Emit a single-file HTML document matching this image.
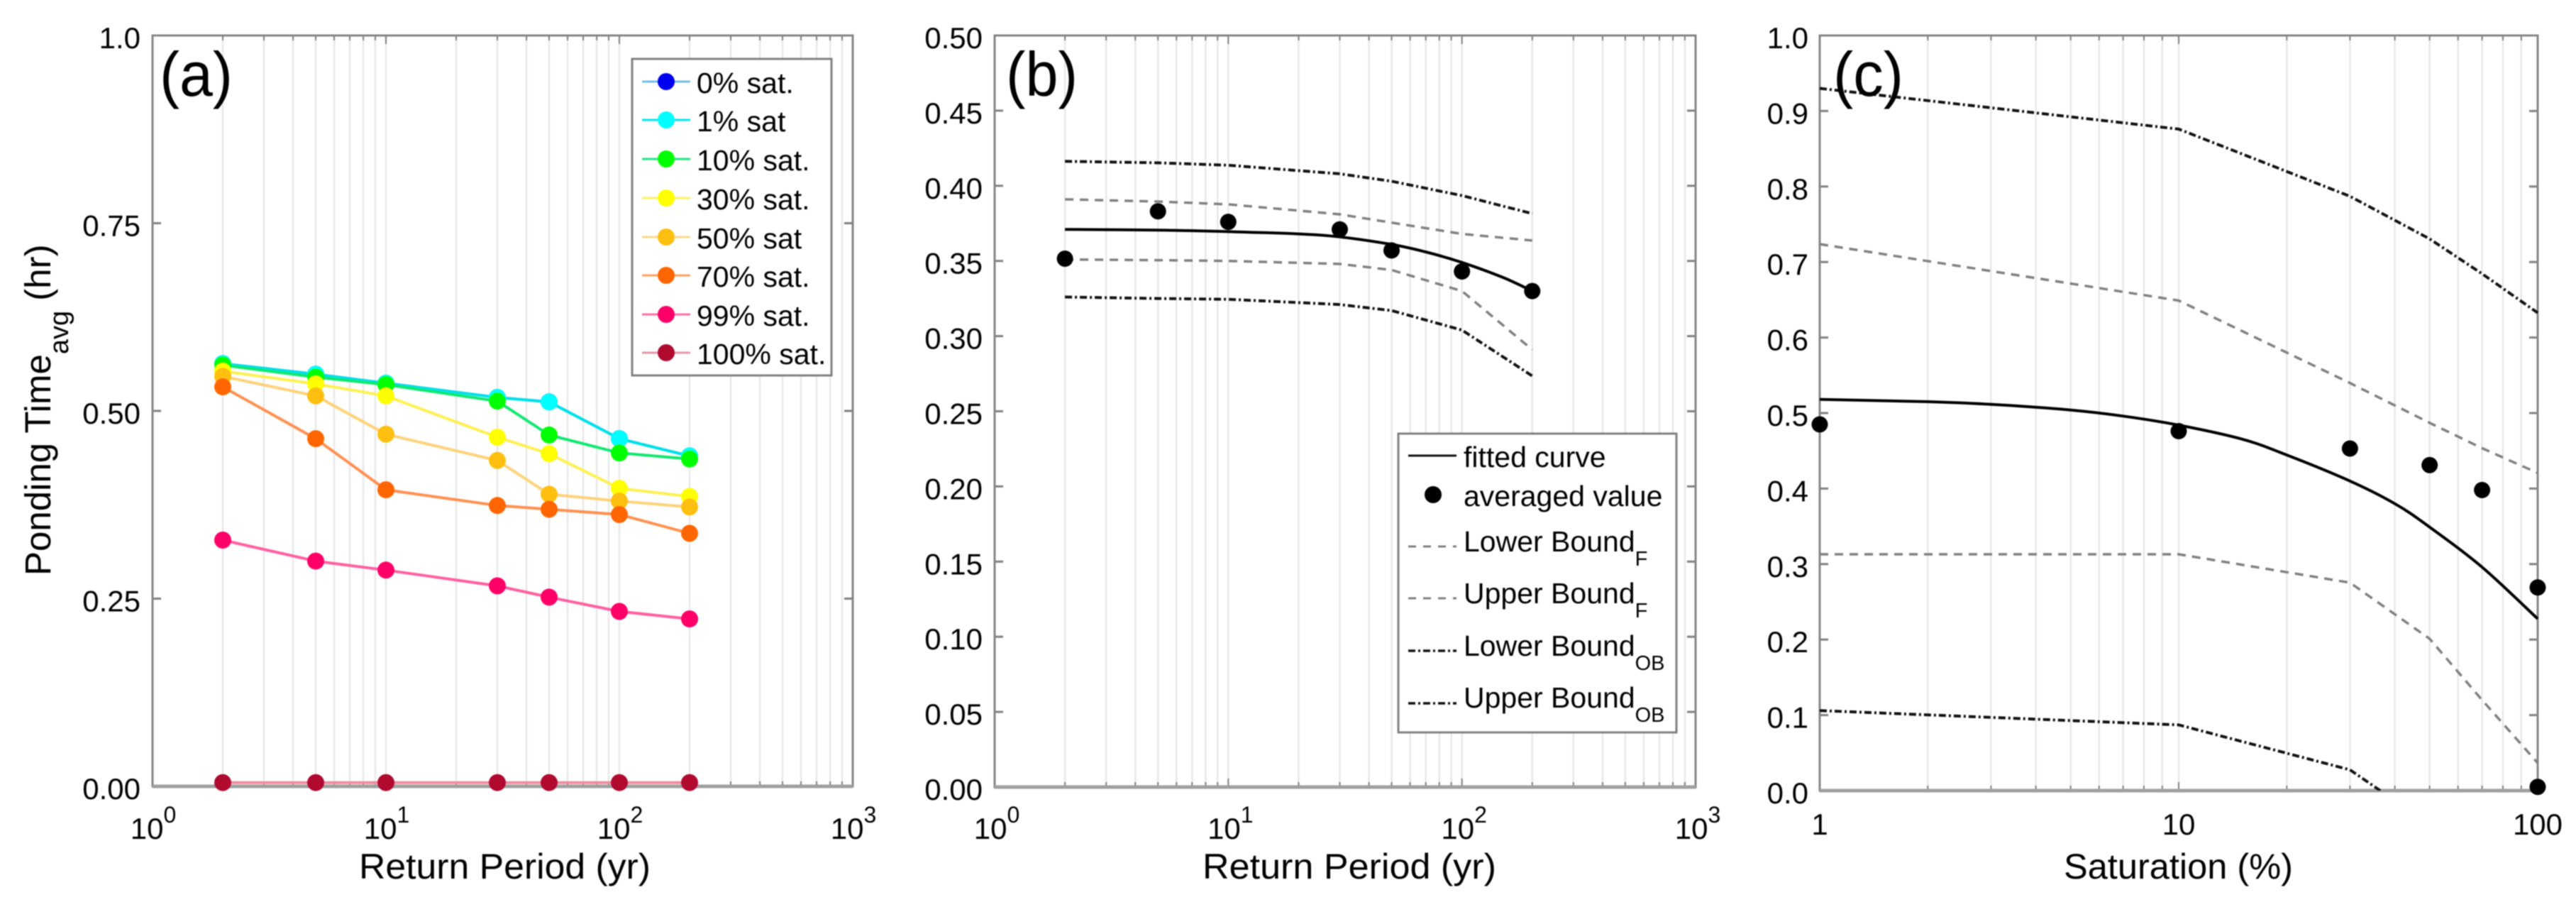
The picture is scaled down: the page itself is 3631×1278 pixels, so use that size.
<!DOCTYPE html>
<html lang="en">
<head>
<meta charset="utf-8">
<title>Ponding time charts</title>
<style>
html,body{margin:0;padding:0;background:#fff;width:3631px;height:1278px;overflow:hidden}
svg{display:block;font-family:"Liberation Sans",Arial,sans-serif;fill:#000;filter:blur(0.8px)}
text{fill:#000}
</style>
</head>
<body>
<svg id="fig" xmlns="http://www.w3.org/2000/svg" width="3631" height="1278" viewBox="0 0 3631 1278">
  <defs>
    <clipPath id="clip-c"><rect x="2565" y="50" width="1012" height="1064"/></clipPath>
  </defs>
  <rect x="0" y="0" width="3631" height="1278" fill="#fff"/>
  <g id="panel-a"></g>
  <g id="panel-b"></g>
  <g id="panel-c"></g>

  <text transform="translate(71,811) rotate(-90)" font-size="51">Ponding Time<tspan font-size="38" dy="25">avg</tspan><tspan dy="-25"> (hr)</tspan></text>
  <text x="506" y="1238" font-size="50" textLength="411" lengthAdjust="spacingAndGlyphs">Return Period (yr)</text>
  <text x="1695" y="1238" font-size="50" textLength="414" lengthAdjust="spacingAndGlyphs">Return Period (yr)</text>
  <text x="2909" y="1238" font-size="50" textLength="323" lengthAdjust="spacingAndGlyphs">Saturation (%)</text>

  <text x="225" y="135" font-size="88" textLength="103" lengthAdjust="spacingAndGlyphs">(a)</text>
  <text x="1418" y="135" font-size="88" textLength="101" lengthAdjust="spacingAndGlyphs">(b)</text>
  <text x="2584" y="135" font-size="88" textLength="99" lengthAdjust="spacingAndGlyphs">(c)</text>

  <g font-size="41">
    <rect x="891" y="83" width="281" height="446" fill="#fff" stroke="#808080" stroke-width="3"/>
    <g><line x1="905" x2="973" y1="115" y2="115" stroke="#74bce8" stroke-width="3"/><circle cx="939" cy="115" r="12" fill="#0000f0"/><text x="982" y="131">0% sat.</text></g>
    <g><line x1="905" x2="973" y1="169" y2="169" stroke="#00e8f0" stroke-width="3"/><circle cx="939" cy="169" r="12" fill="#00ffff"/><text x="982" y="185">1% sat</text></g>
    <g><line x1="905" x2="973" y1="224" y2="224" stroke="#20e880" stroke-width="3"/><circle cx="939" cy="224" r="12" fill="#00ff00"/><text x="982" y="240">10% sat.</text></g>
    <g><line x1="905" x2="973" y1="279" y2="279" stroke="#fff060" stroke-width="3"/><circle cx="939" cy="279" r="12" fill="#ffff00"/><text x="982" y="295">30% sat.</text></g>
    <g><line x1="905" x2="973" y1="334" y2="334" stroke="#ffd88a" stroke-width="3"/><circle cx="939" cy="334" r="12" fill="#ffbf10"/><text x="982" y="350">50% sat</text></g>
    <g><line x1="905" x2="973" y1="388" y2="388" stroke="#ffa060" stroke-width="3"/><circle cx="939" cy="388" r="12" fill="#ff6600"/><text x="982" y="404">70% sat.</text></g>
    <g><line x1="905" x2="973" y1="443" y2="443" stroke="#ff70a8" stroke-width="3"/><circle cx="939" cy="443" r="12" fill="#ff0066"/><text x="982" y="459">99% sat.</text></g>
    <g><line x1="905" x2="973" y1="497" y2="497" stroke="#e896a8" stroke-width="3"/><circle cx="939" cy="497" r="12" fill="#b00a2e"/><text x="982" y="513">100% sat.</text></g>
  </g>

  <g font-size="41">
    <rect x="1971" y="611" width="392" height="421" fill="#fff" stroke="#808080" stroke-width="3"/>
    <g><line x1="1985" x2="2053" y1="642" y2="642" stroke="#111" stroke-width="3"/><text x="2063" y="658">fitted curve</text></g>
    <g><circle cx="2020" cy="697" r="12" fill="#000"/><text x="2063" y="713">averaged value</text></g>
    <g><line x1="1985" x2="2053" y1="770" y2="770" stroke="#808080" stroke-width="3" stroke-dasharray="11 10"/><text x="2063" y="777">Lower Bound<tspan font-size="29" dy="20">F</tspan></text></g>
    <g><line x1="1985" x2="2053" y1="843" y2="843" stroke="#808080" stroke-width="3" stroke-dasharray="11 10"/><text x="2063" y="850">Upper Bound<tspan font-size="29" dy="20">F</tspan></text></g>
    <g><line x1="1985" x2="2053" y1="917" y2="917" stroke="#111" stroke-width="3.5" stroke-dasharray="10 4 3 4"/><text x="2063" y="924">Lower Bound<tspan font-size="29" dy="20">OB</tspan></text></g>
    <g><line x1="1985" x2="2053" y1="991" y2="991" stroke="#111" stroke-width="3.5" stroke-dasharray="10 4 3 4"/><text x="2063" y="997">Upper Bound<tspan font-size="29" dy="20">OB</tspan></text></g>
  </g>
</svg>
<script>
// ---------- Panel (a) data ----------
const returnPeriods = [2, 5, 10, 30, 50, 100, 200];
const sat0   = [0.563, 0.549, 0.537, 0.518, 0.512, 0.463, 0.440];
const sat1   = [0.563, 0.549, 0.537, 0.518, 0.512, 0.463, 0.440];
const sat10  = [0.561, 0.545, 0.535, 0.513, 0.468, 0.444, 0.436];
const sat30  = [0.553, 0.536, 0.520, 0.465, 0.443, 0.397, 0.386];
const sat50  = [0.546, 0.520, 0.469, 0.434, 0.389, 0.380, 0.372];
const sat70  = [0.532, 0.463, 0.395, 0.374, 0.369, 0.362, 0.337];
const sat99  = [0.328, 0.300, 0.288, 0.267, 0.252, 0.233, 0.223];
const sat100 = [0.005, 0.005, 0.005, 0.005, 0.005, 0.005, 0.005];
const yTicksA = ['0.00', '0.25', '0.50', '0.75', '1.0'];

// ---------- Panel (b) data ----------
const avgB = [0.3515, 0.383, 0.376, 0.371, 0.357, 0.343, 0.330];
const fitXB = [2, 5, 10, 20, 30, 50, 70, 100, 150, 200];
const fitB = [0.371, 0.3705, 0.3695, 0.368, 0.366, 0.361, 0.356, 0.349, 0.339, 0.330];
const lowerFB = [0.351, 0.3505, 0.350, 0.348, 0.344, 0.330, 0.291];
const upperFB = [0.391, 0.3895, 0.3877, 0.381, 0.3755, 0.368, 0.3636];
const lowerOBB = [0.326, 0.325, 0.3245, 0.321, 0.317, 0.304, 0.2735];
const upperOBB = [0.4163, 0.4153, 0.4137, 0.408, 0.403, 0.3935, 0.3815];
const yTicksB = ['0.00', '0.05', '0.10', '0.15', '0.20', '0.25', '0.30', '0.35', '0.40', '0.45', '0.50'];

// ---------- Panel (c) data ----------
const saturations = [1, 10, 30, 50, 70, 100];
const avgC = [0.485, 0.476, 0.453, 0.431, 0.398, 0.269];
const avgCFull = [0.005];
const avgCFullX = [100];
const fitXC = [1, 2, 3, 5, 7, 10, 15, 20, 30, 40, 50, 70, 100];
const fitC = [0.518, 0.515, 0.5115, 0.504, 0.496, 0.484, 0.4655, 0.4445, 0.410, 0.380, 0.349, 0.296, 0.2275];
const upperFC = [0.7237, 0.649, 0.5398, 0.487, 0.4535, 0.4207];
const lowerFC = [0.313, 0.313, 0.2754, 0.201, 0.120, 0.0366];
const upperOBC = [0.930, 0.876, 0.787, 0.7306, 0.6845, 0.6327];
const lowerOBC = [0.106, 0.087, 0.0275, -0.045, -0.10, -0.16];
const yTicksC = ['0.0', '0.1', '0.2', '0.3', '0.4', '0.5', '0.6', '0.7', '0.8', '0.9', '1.0'];

const NS = 'http://www.w3.org/2000/svg';

function logScale(x0, x1, d0, d1) {
  return function (v) { return x0 + (x1 - x0) * (Math.log10(v) - Math.log10(d0)) / (Math.log10(d1) - Math.log10(d0)); };
}
function linScale(y0, y1, d0, d1) {
  return function (v) { return y0 + (y1 - y0) * (v - d0) / (d1 - d0); };
}
function styled(el, attrs) {
  Object.keys(attrs).forEach(function (k) { el.setAttribute(k, attrs[k]); });
  return el;
}
function drawLine(g, x1, y1, x2, y2, stroke, width, name) {
  const el = styled(document.createElementNS(NS, 'line'), {x1: x1, y1: y1, x2: x2, y2: y2, stroke: stroke, 'stroke-width': width});
  
  
  g.appendChild(el);
}
function drawText(g, x, y, str, anchor, name) {
  const el = styled(document.createElementNS(NS, 'text'), {x: x, y: y, 'font-size': 42, 'text-anchor': anchor});
  el.textContent = str;
  
  
  g.appendChild(el);
  return el;
}
function drawSeries(g, sx, sy, xs, ys, stroke, width, dash, name, clip) {
  const el = styled(document.createElementNS(NS, 'polyline'), {
    points: xs.map(function (x, i) { return sx(x).toFixed(1) + ',' + sy(ys[i]).toFixed(1); }).join(' '),
    fill: 'none', stroke: stroke, 'stroke-width': width, 'stroke-linejoin': 'round'
  });
  if (dash) el.setAttribute('stroke-dasharray', dash);
  if (clip) el.setAttribute('clip-path', clip);
  
  
  g.appendChild(el);
}
function drawSmooth(g, sx, sy, xs, ys, stroke, width, name) {
  const p = xs.map(function (x, i) { return [sx(x), sy(ys[i])]; });
  let d = 'M' + p[0][0].toFixed(1) + ',' + p[0][1].toFixed(1);
  for (let i = 0; i < p.length - 1; i++) {
    const a = p[Math.max(i - 1, 0)], b = p[i], c = p[i + 1], e = p[Math.min(i + 2, p.length - 1)];
    const c1x = b[0] + (c[0] - a[0]) / 6, c1y = b[1] + (c[1] - a[1]) / 6;
    const c2x = c[0] - (e[0] - b[0]) / 6, c2y = c[1] - (e[1] - b[1]) / 6;
    d += 'C' + c1x.toFixed(1) + ',' + c1y.toFixed(1) + ' ' + c2x.toFixed(1) + ',' + c2y.toFixed(1) + ' ' + c[0].toFixed(1) + ',' + c[1].toFixed(1);
  }
  const el = styled(document.createElementNS(NS, 'path'), {d: d, fill: 'none', stroke: stroke, 'stroke-width': width});
  
  
  g.appendChild(el);
}
function drawDots(g, sx, sy, xs, ys, fill, r, name) {
  xs.forEach(function (x, i) {
    const el = styled(document.createElementNS(NS, 'circle'), {cx: sx(x).toFixed(1), cy: sy(ys[i]).toFixed(1), r: r, fill: fill});
    
    
    g.appendChild(el);
  });
}
function drawAxes(g, f, sx, sy, decades, yTicks, yLabelRight) {
  const gridColor = '#e8e8e8', tickColor = '#808080';
  decades.slice(0, -1).forEach(function (d) {
    for (let k = 1; k <= 9; k++) {
      const v = d * k, x = sx(v), major = k === 1;
      if (!(major && d === decades[0])) {
        drawLine(g, x, f.top, x, f.bottom, gridColor, 2.5, 'x-grid-line');
      }
      const len = major ? 12 : 7;
      drawLine(g, x, f.bottom, x, f.bottom - len, tickColor, 2, 'x-tick');
      drawLine(g, x, f.top, x, f.top + len, tickColor, 2, 'x-tick-top');
    }
  });
  yTicks.forEach(function (t) {
    const y = sy(parseFloat(t));
    drawLine(g, f.left, y, f.left + 12, y, tickColor, 3, 'y-tick');
    drawLine(g, f.right, y, f.right - 12, y, tickColor, 3, 'y-tick-right');
    drawText(g, yLabelRight, y + 18, t, 'end', 'y-tick-label');
  });
  const frame = styled(document.createElementNS(NS, 'rect'), {x: f.left, y: f.top, width: f.right - f.left, height: f.bottom - f.top, fill: 'none', stroke: '#858585', 'stroke-width': 3});
  
  
  g.appendChild(frame);
  drawLine(g, f.left, f.bottom, f.right, f.bottom, '#a0a0a0', 5, 'x-axis-line');
}
function drawPowerLabel(g, x, exp) {
  const el = styled(document.createElementNS(NS, 'text'), {x: x, y: 1182, 'font-size': 42, 'text-anchor': 'middle'});
  const base = document.createTextNode('10');
  el.appendChild(base);
  const sup = styled(document.createElementNS(NS, 'tspan'), {'font-size': 32, dy: -23});
  sup.textContent = String(exp);
  el.appendChild(sup);
  
  
  g.appendChild(el);
}

// Panel (a)
(function () {
  const g = document.getElementById('panel-a');
  const f = {left: 215, right: 1202, top: 50, bottom: 1108};
  const sx = logScale(f.left, f.right, 1, 1000);
  const sy = linScale(f.bottom, f.top, 0, 1);
  drawAxes(g, f, sx, sy, [1, 10, 100, 1000], yTicksA, 198);
  [0, 1, 2, 3].forEach(function (e) { drawPowerLabel(g, sx(Math.pow(10, e)) + 1, e); });
  drawSeries(g, sx, sy, returnPeriods, sat0, '#74bce8', 4, null, 'series-0-line');
  drawDots(g, sx, sy, returnPeriods, sat0, '#0000f0', 12, 'series-0');
  drawSeries(g, sx, sy, returnPeriods, sat1, '#00e0ea', 4, null, 'series-1-line');
  drawDots(g, sx, sy, returnPeriods, sat1, '#00ffff', 12, 'series-1');
  drawSeries(g, sx, sy, returnPeriods, sat10, '#10e870', 4, null, 'series-10-line');
  drawDots(g, sx, sy, returnPeriods, sat10, '#00ff00', 12, 'series-10');
  drawSeries(g, sx, sy, returnPeriods, sat30, '#fff050', 4, null, 'series-30-line');
  drawDots(g, sx, sy, returnPeriods, sat30, '#ffff00', 12, 'series-30');
  drawSeries(g, sx, sy, returnPeriods, sat50, '#ffd27a', 4, null, 'series-50-line');
  drawDots(g, sx, sy, returnPeriods, sat50, '#ffbf10', 12, 'series-50');
  drawSeries(g, sx, sy, returnPeriods, sat70, '#ff9050', 4, null, 'series-70-line');
  drawDots(g, sx, sy, returnPeriods, sat70, '#ff6600', 12, 'series-70');
  drawSeries(g, sx, sy, returnPeriods, sat99, '#ff5fa0', 4, null, 'series-99-line');
  drawDots(g, sx, sy, returnPeriods, sat99, '#ff0066', 12, 'series-99');
  drawSeries(g, sx, sy, returnPeriods, sat100, '#f08ca0', 4, null, 'series-100-line');
  drawDots(g, sx, sy, returnPeriods, sat100, '#b00a2e', 12, 'series-100');
})();

// Panel (b)
(function () {
  const g = document.getElementById('panel-b');
  const f = {left: 1402, right: 2390, top: 50, bottom: 1109};
  const sx = logScale(f.left, f.right, 1, 1000);
  const sy = linScale(f.bottom, f.top, 0, 0.5);
  drawAxes(g, f, sx, sy, [1, 10, 100, 1000], yTicksB, 1385);
  [0, 1, 2, 3].forEach(function (e) { drawPowerLabel(g, sx(Math.pow(10, e)) + 3, e); });
  drawSeries(g, sx, sy, returnPeriods, upperOBB, '#111', 4, '10 4 3 4', 'upper-bound-ob-line');
  drawSeries(g, sx, sy, returnPeriods, upperFB, '#808080', 3.5, '12 9', 'upper-bound-f-line');
  drawSeries(g, sx, sy, returnPeriods, lowerFB, '#808080', 3.5, '12 9', 'lower-bound-f-line');
  drawSeries(g, sx, sy, returnPeriods, lowerOBB, '#111', 4, '10 4 3 4', 'lower-bound-ob-line');
  drawDots(g, sx, sy, returnPeriods, avgB, '#000', 11.5, 'averaged-value');
  drawSmooth(g, sx, sy, fitXB, fitB, '#000', 4, 'fitted-curve');
})();

// Panel (c)
(function () {
  const g = document.getElementById('panel-c');
  const f = {left: 2565, right: 3577, top: 50, bottom: 1114};
  const sx = logScale(f.left, f.right, 1, 100);
  const sy = linScale(f.bottom, f.top, 0, 1);
  drawAxes(g, f, sx, sy, [1, 10, 100], yTicksC, 2549);
  drawText(g, sx(1), 1176, '1', 'middle', 'x-tick-label');
  drawText(g, sx(10), 1176, '10', 'middle', 'x-tick-label');
  drawText(g, sx(100), 1176, '100', 'middle', 'x-tick-label');
  drawSeries(g, sx, sy, saturations, upperOBC, '#111', 4, '10 4 3 4', 'upper-bound-ob-line');
  drawSeries(g, sx, sy, saturations, upperFC, '#808080', 3.5, '12 9', 'upper-bound-f-line');
  drawSeries(g, sx, sy, saturations, lowerFC, '#808080', 3.5, '12 9', 'lower-bound-f-line');
  drawSeries(g, sx, sy, saturations, lowerOBC, '#111', 4, '10 4 3 4', 'lower-bound-ob-line', 'url(#clip-c)');
  drawSmooth(g, sx, sy, fitXC, fitC, '#000', 4, 'fitted-curve');
  drawDots(g, sx, sy, saturations, avgC, '#000', 11.5, 'averaged-value');
  drawDots(g, sx, sy, avgCFullX, avgCFull, '#000', 11.5, 'averaged-value-full-saturation');
})();
</script>
</body>
</html>
